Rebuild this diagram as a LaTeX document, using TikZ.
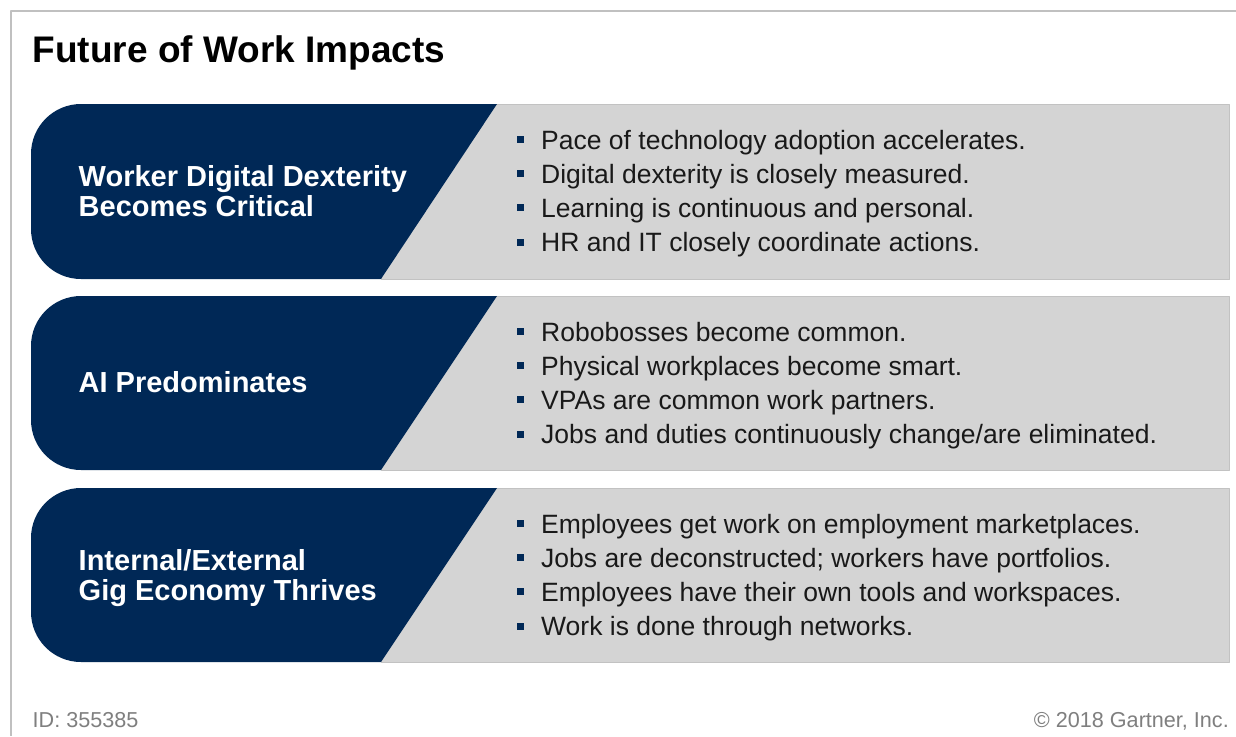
\documentclass[tikz,border=0pt]{standalone}
\usepackage{fontspec}
\setmainfont{Liberation Sans}
\definecolor{navy}{HTML}{002856}
\definecolor{panel}{HTML}{D4D4D4}
\definecolor{panelline}{HTML}{C2C2C2}
\definecolor{frameline}{HTML}{C0C0C0}
\definecolor{footgray}{HTML}{7F7F7F}
\newcommand{\sqmark}{\textcolor{navy}{\rule[6pt]{7pt}{7pt}}\hspace{17pt}}

\begin{document}
\begin{tikzpicture}[x=1pt,y=-1pt,line join=round,
  panel/.style={fill=panel,draw=panelline,line width=1pt},
  tab/.style={fill=navy},
  head/.style={anchor=base west,inner sep=0pt,text=white,font=\fontsize{29}{30}\selectfont\bfseries},
  item/.style={anchor=base west,inner sep=0pt,text=black!90,font=\fontsize{26.5}{34}\selectfont},
  foot/.style={inner sep=0pt,text=footgray,font=\fontsize{21.6}{24}\selectfont}]
\useasboundingbox (0,0) rectangle (1236,736);
\fill[white] (0,0) rectangle (1236,736);
\draw[frameline,line width=2pt] (1236,11)--(11,11)--(11,736);

\node[anchor=base west,inner sep=0pt,font=\fontsize{37}{40}\selectfont\bfseries] (title) at (32.5,62) {Future of Work Impacts};

% first band
\draw[panel] (381,104) rectangle (1229,279);
\fill[tab] (381,279) [rounded corners=50pt] -- (31,279) -- (31,104) [sharp corners] -- (497,104) -- cycle;
\node[head] (h1a) at (78.5,186.5) {Worker Digital Dexterity};
\node[head] (h1b) at (78.5,216.5) {Becomes Critical};
\node[item] (i1a) at (517,149) {\sqmark Pace of technology adoption accelerates.};
\node[item] (i1b) at (517,183.2) {\sqmark Digital dexterity is closely measured.};
\node[item] (i1c) at (517,217.4) {\sqmark Learning is continuous and personal.};
\node[item] (i1d) at (517,251.6) {\sqmark HR and IT closely coordinate actions.};

% second band
\draw[panel] (381,296) rectangle (1229,470);
\fill[tab] (381,470) [rounded corners=50pt] -- (31,470) -- (31,296) [sharp corners] -- (497,296) -- cycle;
\node[head] (h2a) at (78.5,392.5) {AI Predominates};
\node[item] (i2a) at (517,341) {\sqmark Robobosses become common.};
\node[item] (i2b) at (517,375.2) {\sqmark Physical workplaces become smart.};
\node[item] (i2c) at (517,409.4) {\sqmark VPAs are common work partners.};
\node[item] (i2d) at (517,443.6) {\sqmark Jobs and duties continuously change/are eliminated.};

% third band
\draw[panel] (381,488) rectangle (1229,662);
\fill[tab] (381,662) [rounded corners=50pt] -- (31,662) -- (31,488) [sharp corners] -- (497,488) -- cycle;
\node[head] (h3a) at (78.5,570.5) {Internal/External};
\node[head] (h3b) at (78.5,600.5) {Gig Economy Thrives};
\node[item] (i3a) at (517,533) {\sqmark Employees get work on employment marketplaces.};
\node[item] (i3b) at (517,567.2) {\sqmark Jobs are deconstructed; workers have portfolios.};
\node[item] (i3c) at (517,601.4) {\sqmark Employees have their own tools and workspaces.};
\node[item] (i3d) at (517,635.6) {\sqmark Work is done through networks.};

\node[foot,anchor=base west] (id) at (32.5,727) {ID: 355385};
\node[foot,anchor=base east] (copy) at (1229,727) {\textcopyright{} 2018 Gartner, Inc.};
\end{tikzpicture}
\end{document}
